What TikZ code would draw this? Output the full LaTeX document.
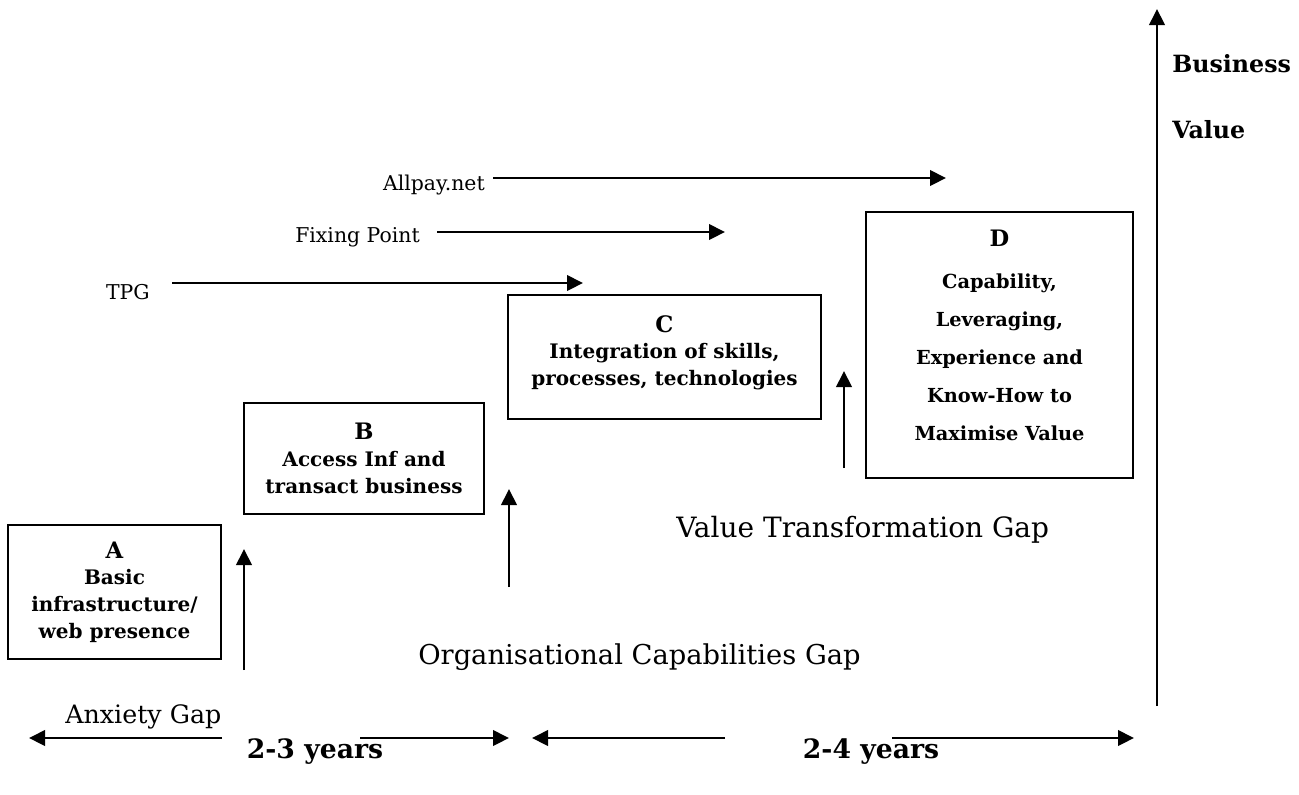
\documentclass[tikz,border=0pt]{standalone}
\usepackage{fontspec}
\setmainfont{DejaVu Serif}
\usetikzlibrary{arrows.meta}
\begin{document}
\begin{tikzpicture}[x=0.75pt,y=-0.75pt,
  stagebox/.style={draw,line width=1.4pt,inner sep=0pt,align=center,font=\bfseries\fontsize{15}{20}\selectfont},
  arr/.style={line width=2.1pt,-{Triangle[length=12pt,width=11.5pt]}},
  lbl/.style={inner sep=0pt,font=\fontsize{15.3}{18}\selectfont},
  gap/.style={inner sep=0pt,font=\fontsize{19}{22}\selectfont}]
\useasboundingbox (0,0) rectangle (1299,794);
% boxes
\node[stagebox,minimum width=159.75pt,minimum height=100.5pt] (A) at (114.5,592)
  {{\fontsize{17}{20}\selectfont A}\\Basic\\infrastructure/\\web presence};
\node[stagebox,minimum width=180pt,minimum height=83.25pt] (B) at (364,458.5)
  {{\fontsize{17}{20}\selectfont B}\\Access Inf and\\transact business};
\node[stagebox,minimum width=234.75pt,minimum height=93pt] (C) at (664.5,357)
  {{\fontsize{17}{20}\selectfont C}\\Integration of skills,\\processes, technologies\\[-10pt]\mbox{}};
\node[stagebox,minimum width=200.25pt,minimum height=199.5pt,font=\bfseries\fontsize{14.5}{28.5}\selectfont] (D) at (999.5,345)
  {{\fontsize{17}{20}\selectfont D}\\[3pt]Capability,\\Leveraging,\\Experience and\\Know-How to\\Maximise Value\\[-14pt]\mbox{}};
% vertical arrows
\coordinate (a1s) at (244,670); \coordinate (a1e) at (244,549);
\coordinate (a2s) at (509,587); \coordinate (a2e) at (509,489);
\coordinate (a3s) at (844,468); \coordinate (a3e) at (844,371);
\draw[arr] (a1s) -- (a1e);
\draw[arr] (a2s) -- (a2e);
\draw[arr] (a3s) -- (a3e);
% business value axis
\coordinate (ax0) at (1157,706); \coordinate (ax1) at (1157,9);
\draw[arr] (ax0) -- (ax1);
\node[lbl,anchor=west,font=\bfseries\fontsize{17.8}{20}\selectfont] (bv1) at (1172,64) {Business};
\node[lbl,anchor=west,font=\bfseries\fontsize{17.8}{20}\selectfont] (bv2) at (1172,130) {Value};
% projects
\node[lbl,anchor=east] (tpg) at (150,292) {TPG};
\coordinate (tpgs) at (172,283); \coordinate (tpge) at (583,283);
\draw[arr] (tpgs) -- (tpge);
\node[lbl,anchor=east] (fp) at (420,237) {Fixing Point};
\coordinate (fps) at (437,232); \coordinate (fpe) at (725,232);
\draw[arr] (fps) -- (fpe);
\node[lbl,anchor=east] (ap) at (485,185) {Allpay.net};
\coordinate (aps) at (493,178); \coordinate (ape) at (946,178);
\draw[arr] (aps) -- (ape);
% gap labels
\node[gap,anchor=west,font=\fontsize{21}{24}\selectfont] (vtg) at (676,530) {Value Transformation Gap};
\node[gap,anchor=west,font=\fontsize{20.5}{24}\selectfont] (ocg) at (418,657) {Organisational Capabilities Gap};
\node[gap,anchor=west] (ang) at (65,717) {Anxiety Gap};
% durations
\node[inner sep=0pt,font=\bfseries\fontsize{20}{22}\selectfont] (y23) at (315,752) {2-3 years};
\node[inner sep=0pt,font=\bfseries\fontsize{20}{22}\selectfont] (y24) at (871,752) {2-4 years};
\coordinate (l1a) at (222,738); \coordinate (l1b) at (29,738);
\coordinate (r1a) at (360,738); \coordinate (r1b) at (509,738);
\coordinate (l2a) at (725,738); \coordinate (l2b) at (532,738);
\coordinate (r2a) at (892,738); \coordinate (r2b) at (1134,738);
\draw[arr] (l1a) -- (l1b);
\draw[arr] (r1a) -- (r1b);
\draw[arr] (l2a) -- (l2b);
\draw[arr] (r2a) -- (r2b);
\end{tikzpicture}
\end{document}
